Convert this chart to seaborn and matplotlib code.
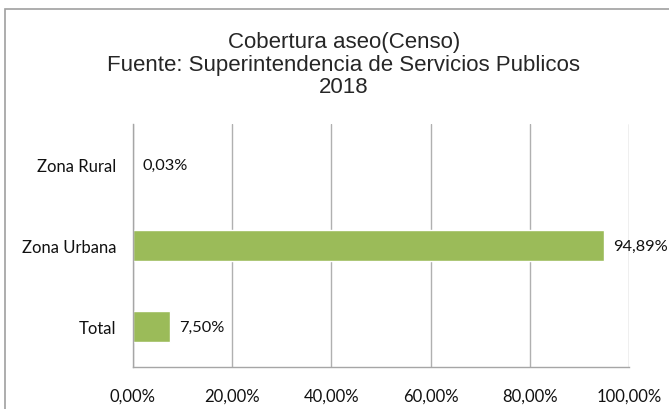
import matplotlib
matplotlib.use("Agg")
import matplotlib.pyplot as plt
import matplotlib.patches as mpatches
import pandas as pd
import seaborn as sns

# datos
categorias = ["Zona Rural", "Zona Urbana", "Total"]
cobertura = [0.03, 94.89, 7.50]
ticks_x = [0, 20, 40, 60, 80, 100]
titulo = "Cobertura aseo(Censo)\nFuente: Superintendencia de Servicios Publicos\n2018"

sns.set_style("white")
plt.rcParams['font.family'] = ['Lato', 'DejaVu Sans']

df = pd.DataFrame({"zona": categorias, "valor": cobertura})


def fmt_pct(v):
    return f"{v:.2f}%".replace(".", ",")


fig = plt.figure(figsize=(6.69, 4.10), dpi=100)
ax = fig.add_axes([0.1988, 0.1024, 0.7414, 0.5927])

sns.barplot(data=df, x="valor", y="zona", orient="h", color="#9BBB59",
            saturation=1, width=0.39, ax=ax)

ax.set_xlim(0, 100)
ax.set_xticks(ticks_x)
ax.set_xticklabels([fmt_pct(t) for t in ticks_x], fontsize=12)
ax.tick_params(axis='y', labelsize=12, length=0, pad=12, labelcolor='#111111')
ax.tick_params(axis='x', length=0, pad=15, labelcolor='#111111')
ax.set_xlabel("")
ax.set_ylabel("")

# rejilla vertical
ax.grid(axis='x', color='#B0B0B0', linewidth=1)
ax.set_axisbelow(True)
for s in ['top', 'right']:
    ax.spines[s].set_visible(False)
for s in ['left', 'bottom']:
    ax.spines[s].set_color('#A6A6A6')
    ax.spines[s].set_linewidth(1)

# etiquetas de datos
for i, v in enumerate(cobertura):
    ax.text(v + 1.9, i, fmt_pct(v), va='center', ha='left', fontsize=11.8,
            color='#111111')

fig.text(0.514, 1 - 65 / 410, titulo, ha='center', va='center', fontsize=16,
         family='Liberation Sans', linespacing=1.1)

# marco del área del gráfico
fig.patches.append(mpatches.Rectangle((5 / 669, -0.05), 1.0, 0.05 + 1 - 10 / 410,
                                      transform=fig.transFigure, fill=False,
                                      edgecolor='#A0A0A0', linewidth=1.2))

fig.savefig("out.png", dpi=100)
